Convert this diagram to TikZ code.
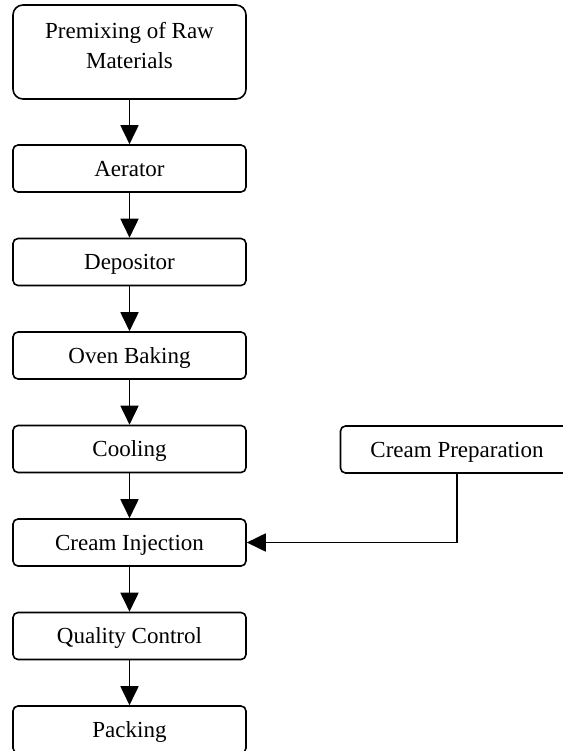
\documentclass[tikz,border=0pt]{standalone}
\usepackage{fontspec}
\setmainfont{Liberation Serif}
\usetikzlibrary{arrows.meta}

\tikzset{
  stage/.style={draw,line width=1.6pt,rounded corners=5pt,minimum width=233pt,minimum height=47pt,
    inner sep=0pt,font=\fontsize{23}{30}\selectfont,text height=15.2pt,text depth=0pt},
  flow/.style={line width=1.8pt,-{Triangle[length=19pt,width=18pt]}}
}

\begin{document}
\begin{tikzpicture}[x=1pt,y=-1pt]
            \useasboundingbox (0,0) rectangle (562,751);
            \node[stage,rounded corners=10pt,minimum height=94pt,align=center,text height=,text depth=13pt] (premix) at (129.5,52) {Premixing of Raw\\Materials};
            \node[stage] (aerator) at (129.5,168.5) {Aerator};
            \node[stage] (depositor) at (129.5,262) {Depositor};
            \node[stage] (oven) at (129.5,355.5) {Oven Baking};
            \node[stage] (cooling) at (129.5,449) {Cooling};
            \node[stage] (inject) at (129.5,542.5) {Cream Injection};
            \node[stage] (quality) at (129.5,636) {Quality Control};
            \node[stage] (packing) at (129.5,729.5) {Packing};
            \node[stage] (cprep) at (457,449.5) {Cream Preparation};
            \draw[flow] (premix)--(aerator);
            \draw[flow] (aerator)--(depositor);
            \draw[flow] (depositor)--(oven);
            \draw[flow] (oven)--(cooling);
            \draw[flow] (cooling)--(inject);
            \draw[flow] (inject)--(quality);
            \draw[flow] (quality)--(packing);
            \draw[flow] (cprep.south) |- (inject.east);
        \end{tikzpicture}
\end{document}
